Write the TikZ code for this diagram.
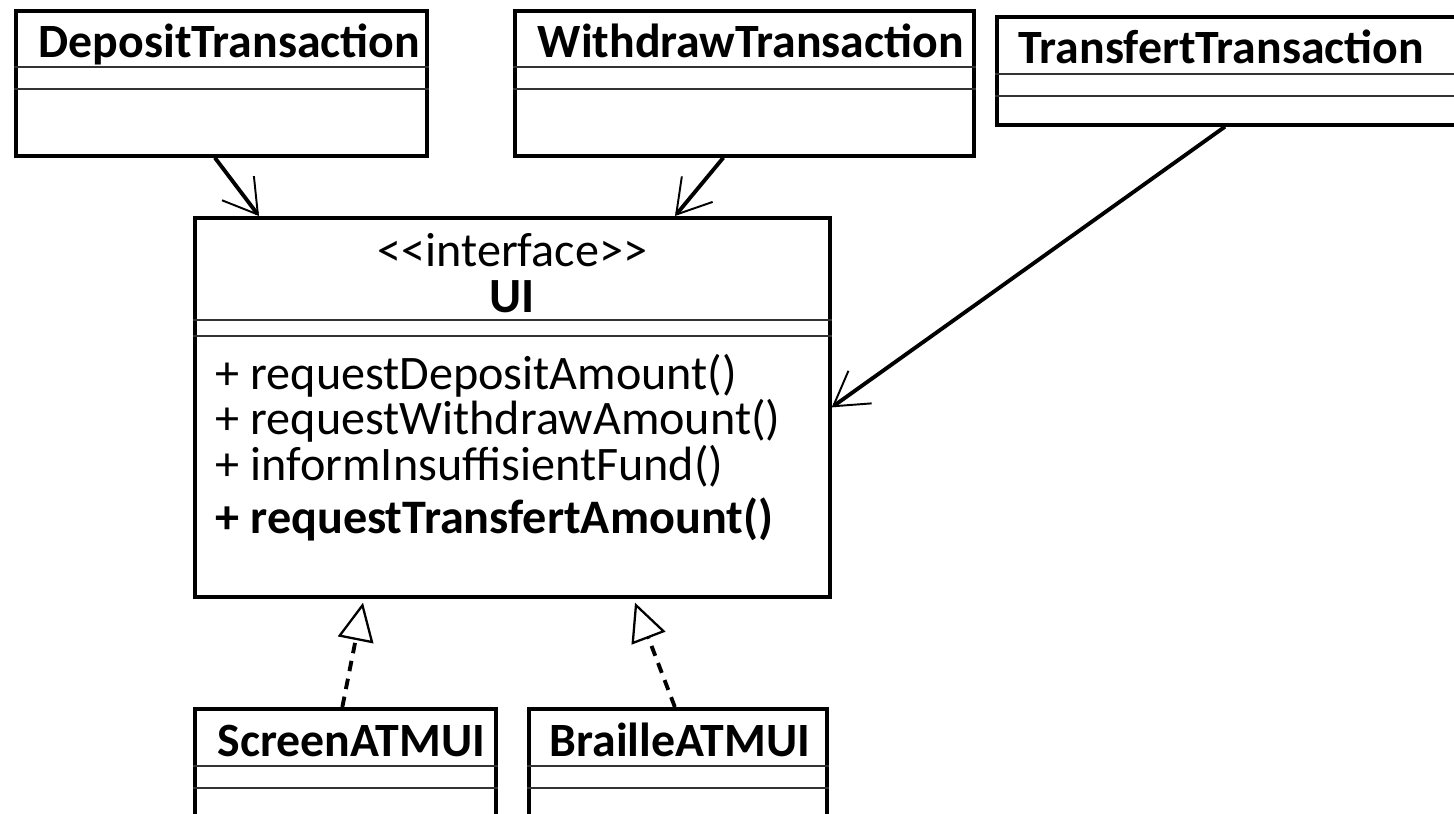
\documentclass[tikz,border=0pt]{standalone}
\usepackage{fontspec}
\setmainfont{Carlito}[Ligatures=TeXOff]
\usetikzlibrary{calc}
\usetikzlibrary{arrows.meta}

\tikzset{
  classbox/.style={draw,line width=1.05pt,inner sep=0pt,anchor=north west},
  compart/.style={line width=0.4pt,black!80},
  classname/.style={anchor=base west,inner sep=0pt,font=\bfseries\fontsize{13.6}{16}\selectfont},
  member/.style={anchor=west,inner sep=0pt,font=\fontsize{13.7}{16}\selectfont},
  uses/.style={line width=1.1pt,-{Straight Barb[length=3.3mm,width=4mm,line width=0.55pt]}},
  realizes/.style={line width=1.1pt,dash pattern=on 3pt off 2.2pt,
    -{Triangle[open,length=3.8mm,width=3.6mm,line width=0.65pt]}},
}

\begin{document}
\begin{tikzpicture}
\useasboundingbox (0,0) rectangle (14.54,8.13);

% the three transactions
\node[classbox,minimum width=4.11cm,minimum height=1.45cm] (dep) at (0.14,8.04) {};
\draw[compart] ($(dep.north west)+(0,-0.58)$) -- ($(dep.north east)+(0,-0.58)$);
\draw[compart] ($(dep.north west)+(0,-0.80)$) -- ($(dep.north east)+(0,-0.80)$);
\node[classname] (depname) at ($(dep.north west)+(0.24,-0.48)$) {DepositTransaction};

\node[classbox,minimum width=4.59cm,minimum height=1.45cm] (wd) at (5.13,8.04) {};
\draw[compart] ($(wd.north west)+(0,-0.58)$) -- ($(wd.north east)+(0,-0.58)$);
\draw[compart] ($(wd.north west)+(0,-0.80)$) -- ($(wd.north east)+(0,-0.80)$);
\node[classname] (wdname) at ($(wd.north west)+(0.24,-0.48)$) {WithdrawTransaction};

\node[classbox,minimum width=4.8cm,minimum height=1.08cm] (tr) at (9.95,7.98) {};
\draw[compart] ($(tr.north west)+(0,-0.59)$) -- ($(tr.north east)+(0,-0.59)$);
\draw[compart] ($(tr.north west)+(0,-0.81)$) -- ($(tr.north east)+(0,-0.81)$);
\node[classname] (trname) at ($(tr.north west)+(0.23,-0.48)$) {TransfertTransaction};

% the interface
\node[classbox,minimum width=6.35cm,minimum height=3.79cm] (ui) at (1.93,5.97) {};
\draw[compart] ($(ui.north west)+(0,-1.04)$) -- ($(ui.north east)+(0,-1.04)$);
\draw[compart] ($(ui.north west)+(0,-1.20)$) -- ($(ui.north east)+(0,-1.20)$);
\node[font=\fontsize{13.7}{16}\selectfont,inner sep=0pt] (stereo) at ($(ui.north)+(0,-0.34)$) {<<interface>>};
\node[font=\bfseries\fontsize{14}{16}\selectfont,inner sep=0pt] (uiname) at ($(ui.north)+(0,-0.81)$) {UI};
\node[member] (m1) at ($(ui.north west)+(0.22,-1.60)$) {+ requestDepositAmount()};
\node[member] (m2) at ($(ui.north west)+(0.22,-2.05)$) {+ requestWithdrawAmount()};
\node[member] (m3) at ($(ui.north west)+(0.22,-2.50)$) {+ informInsuffisientFund()};
\node[member,font=\bfseries\fontsize{13.7}{16}\selectfont] (m4) at ($(ui.north west)+(0.22,-3.03)$) {+ requestTransfertAmount()};

% the two implementations
\node[classbox,minimum width=3.01cm,minimum height=1.2cm] (scr) at (1.93,1.06) {};
\draw[compart] ($(scr.north west)+(0,-0.59)$) -- ($(scr.north east)+(0,-0.59)$);
\draw[compart] ($(scr.north west)+(0,-0.81)$) -- ($(scr.north east)+(0,-0.81)$);
\node[classname] (scrname) at ($(scr.north west)+(0.24,-0.49)$) {ScreenATMUI};

\node[classbox,minimum width=2.98cm,minimum height=1.2cm] (br) at (5.27,1.06) {};
\draw[compart] ($(br.north west)+(0,-0.59)$) -- ($(br.north east)+(0,-0.59)$);
\draw[compart] ($(br.north west)+(0,-0.81)$) -- ($(br.north east)+(0,-0.81)$);
\node[classname] (brname) at ($(br.north west)+(0.22,-0.49)$) {BrailleATMUI};

% connectors
\draw[uses] ($(dep.south)+(-0.065,0)$) -- ($(ui.north west)+(0.66,0)$);
\draw[uses] ($(wd.south)+(-0.21,0)$) -- ($(ui.north west)+(4.82,0)$);
\draw[uses] ($(tr.south west)+(2.30,0)$) -- (ui.east);
\draw[realizes] ($(scr.north)+(-0.03,0)$) -- ($(ui.south west)+(1.70,-0.04)$);
\draw[realizes] ($(br.north)+(-0.03,0)$) -- ($(ui.south west)+(4.42,-0.04)$);

\end{tikzpicture}
\end{document}
